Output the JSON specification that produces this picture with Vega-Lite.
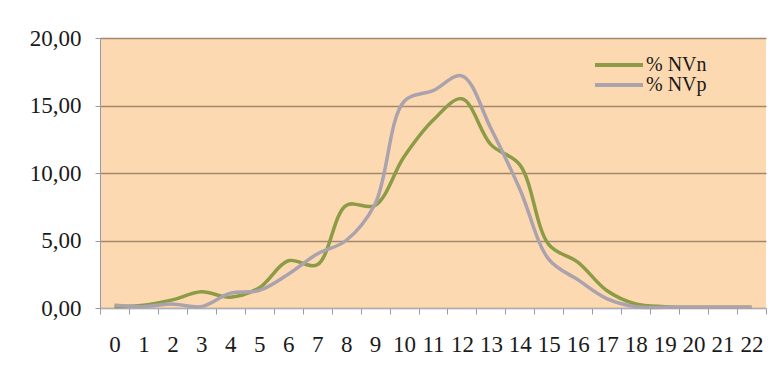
{
  "$schema": "https://vega.github.io/schema/vega-lite/v6.json",
  "width": 666,
  "height": 270,
  "autosize": {"type": "none"},
  "padding": {"left": 100, "top": 38, "right": 11, "bottom": 81},
  "background": "#ffffff",
  "config": {
    "view": {"fill": "#fcd9b1", "stroke": null},
    "font": "Liberation Serif"
  },
  "data": {
    "values": [
      {"x": 0, "s": "% NVn", "v": 0.1}, {"x": 1, "s": "% NVn", "v": 0.2}, {"x": 2, "s": "% NVn", "v": 0.6},
      {"x": 3, "s": "% NVn", "v": 1.2}, {"x": 4, "s": "% NVn", "v": 0.8}, {"x": 5, "s": "% NVn", "v": 1.5},
      {"x": 6, "s": "% NVn", "v": 3.5}, {"x": 7, "s": "% NVn", "v": 3.2}, {"x": 8, "s": "% NVn", "v": 7.6},
      {"x": 9, "s": "% NVn", "v": 7.6}, {"x": 10, "s": "% NVn", "v": 11.2}, {"x": 11, "s": "% NVn", "v": 13.9},
      {"x": 12, "s": "% NVn", "v": 15.5}, {"x": 13, "s": "% NVn", "v": 12.1}, {"x": 14, "s": "% NVn", "v": 10.6},
      {"x": 15, "s": "% NVn", "v": 4.7}, {"x": 16, "s": "% NVn", "v": 3.4}, {"x": 17, "s": "% NVn", "v": 1.3},
      {"x": 18, "s": "% NVn", "v": 0.3}, {"x": 19, "s": "% NVn", "v": 0.1}, {"x": 20, "s": "% NVn", "v": 0.05},
      {"x": 21, "s": "% NVn", "v": 0.05}, {"x": 22, "s": "% NVn", "v": 0.05},
      {"x": 0, "s": "% NVp", "v": 0.2}, {"x": 1, "s": "% NVp", "v": 0.1}, {"x": 2, "s": "% NVp", "v": 0.3},
      {"x": 3, "s": "% NVp", "v": 0.1}, {"x": 4, "s": "% NVp", "v": 1.1}, {"x": 5, "s": "% NVp", "v": 1.3},
      {"x": 6, "s": "% NVp", "v": 2.5}, {"x": 7, "s": "% NVp", "v": 4.0}, {"x": 8, "s": "% NVp", "v": 5.0},
      {"x": 9, "s": "% NVp", "v": 7.7}, {"x": 10, "s": "% NVp", "v": 15.3}, {"x": 11, "s": "% NVp", "v": 16.1},
      {"x": 12, "s": "% NVp", "v": 17.2}, {"x": 13, "s": "% NVp", "v": 13.3}, {"x": 14, "s": "% NVp", "v": 8.8},
      {"x": 15, "s": "% NVp", "v": 3.6}, {"x": 16, "s": "% NVp", "v": 2.1}, {"x": 17, "s": "% NVp", "v": 0.7},
      {"x": 18, "s": "% NVp", "v": 0.1}, {"x": 19, "s": "% NVp", "v": 0.05}, {"x": 20, "s": "% NVp", "v": 0.05},
      {"x": 21, "s": "% NVp", "v": 0.05}, {"x": 22, "s": "% NVp", "v": 0.05}
    ]
  },
  "mark": {"type": "line", "interpolate": "catmull-rom", "strokeWidth": 3.5},
  "encoding": {
    "x": {
      "field": "x",
      "type": "ordinal",
      "scale": {"paddingInner": 0, "paddingOuter": 0},
      "axis": {
        "title": null,
        "labelAngle": 0,
        "tickBand": "extent",
        "grid": false,
        "labelFontSize": 23,
        "labelPadding": 19,
        "labelColor": "#1a1a1a",
        "tickSize": 6,
        "tickColor": "#9a9aa6",
        "domainColor": "#a6b0c4",
        "domainWidth": 1
      }
    },
    "y": {
      "field": "v",
      "type": "quantitative",
      "scale": {"domain": [0, 20]},
      "axis": {
        "title": null,
        "values": [0, 5, 10, 15, 20],
        "labelExpr": "replace(format(datum.value, '.2f'), '.', ',')",
        "labelFontSize": 23,
        "labelPadding": 14,
        "labelColor": "#1a1a1a",
        "tickSize": 5,
        "tickColor": "#9a9aa6",
        "domainColor": "#9a9aa6",
        "gridColor": "#a3886c",
        "gridWidth": 1.5
      }
    },
    "color": {
      "field": "s",
      "type": "nominal",
      "scale": {"domain": ["% NVn", "% NVp"], "range": ["#8c9b45", "#aaa2ad"]},
      "legend": {
        "title": null,
        "orient": "none",
        "legendX": 509,
        "legendY": 17,
        "symbolType": "M-4.8,0H4.8",
        "symbolSize": 100,
        "symbolStrokeWidth": 4,
        "symbolFillColor": "transparent",
        "labelFontSize": 20,
        "labelColor": "#1a1a1a",
        "labelOffset": 17,
        "rowPadding": -3
      }
    }
  }
}
